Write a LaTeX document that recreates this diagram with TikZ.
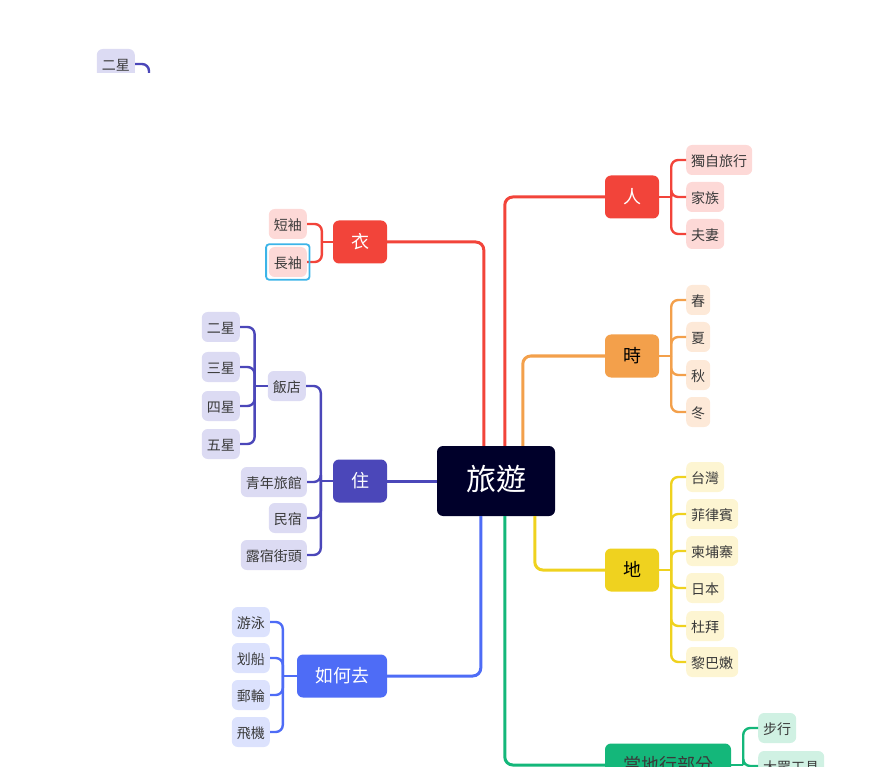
\documentclass[tikz,border=0pt]{standalone}
\usepackage{fontspec}
\setmainfont{Noto Sans CJK TC}
\usetikzlibrary{calc}

\definecolor{rootbg}{HTML}{00002A}
\definecolor{cRed}{HTML}{F2443A}
\definecolor{cOrange}{HTML}{F3A04B}
\definecolor{cYellow}{HTML}{EFD21F}
\definecolor{cGreen}{HTML}{14B77A}
\definecolor{cIndigo}{HTML}{4B47B9}
\definecolor{cBlue}{HTML}{4E6CF6}
\definecolor{lRed}{HTML}{FDD9D7}
\definecolor{lOrange}{HTML}{FDE9D8}
\definecolor{lYellow}{HTML}{FDF5D2}
\definecolor{lGreen}{HTML}{D0F1E3}
\definecolor{lIndigo}{HTML}{DCDBF3}
\definecolor{lBlue}{HTML}{DCE2FD}
\definecolor{ink}{HTML}{3A3A3A}
\definecolor{selblue}{HTML}{3CB4E8}

\begin{document}
\begin{tikzpicture}[x=1pt,y=-1pt,
  rootnode/.style={fill=rootbg, text=white, rounded corners=6pt,
    minimum width=118pt, minimum height=70pt, inner sep=0pt,
    font=\fontsize{30}{32}\selectfont, text height=1.8em, text depth=0em},
  topic/.style={fill=#1, rounded corners=6pt, minimum height=43pt,
    inner xsep=18pt, inner ysep=0pt,
    font=\fontsize{18}{20}\selectfont, text height=1.35em, text depth=0em},
  leaf/.style={fill=#1, text=ink, rounded corners=6pt, minimum height=30pt,
    inner xsep=5pt, inner ysep=0pt,
    font=\fontsize{14}{16}\selectfont, text height=1.3em, text depth=0em},
  mainlink/.style={draw=#1, line width=3pt, rounded corners=8pt},
  sublink/.style={draw=#1, line width=2.4pt, rounded corners=7pt},
  selbox/.style={draw=selblue, line width=1.8pt, rounded corners=3pt}]

\useasboundingbox (0,0) rectangle (881,767);
\clip (0,0) rectangle (881,767);

% ---- central topic ----
\node[rootnode] (root) at (496,481) {旅遊};

% ---- main topics ----
\node[topic=cRed, text=white] (ren) at (632,197) {人};
\node[topic=cOrange, text=black] (shi) at (632,356) {時};
\node[topic=cYellow, text=black] (di) at (632,570) {地};
\node[topic=cGreen, text=ink] (dang) at (668,765) {當地行部分};
\node[topic=cRed, text=white] (yi) at (360,242) {衣};
\node[topic=cIndigo, text=white] (zhu) at (360,481) {住};
\node[topic=cBlue, text=white] (ru) at (342,676) {如何去};

% attachment points on the central topic
\coordinate (rt1) at ($(root.north west)+(47,0)$);
\coordinate (rt2) at ($(root.north west)+(68,0)$);
\coordinate (rt3) at ($(root.north west)+(86,0)$);
\coordinate (rb1) at ($(root.south west)+(44,0)$);
\coordinate (rb2) at ($(root.south west)+(68,0)$);
\coordinate (rb3) at ($(root.south west)+(98,0)$);

\draw[mainlink=cRed] (rt2) |- (ren.west);
\draw[mainlink=cOrange] (rt3) |- (shi.west);
\draw[mainlink=cRed] (yi.east) -| (rt1);
\draw[mainlink=cIndigo] (zhu.east) -- (root.west);
\draw[mainlink=cBlue] (rb1) |- (ru.east);
\draw[mainlink=cGreen] (rb2) |- (dang.west);
\draw[mainlink=cYellow] (rb3) |- (di.west);

% ---- 人 ----
\node[leaf=lRed, anchor=west] (ren1) at (686,160) {獨自旅行};
\node[leaf=lRed, anchor=west] (ren2) at (686,197) {家族};
\node[leaf=lRed, anchor=west] (ren3) at (686,234) {夫妻};
\coordinate (renT) at ($(ren.east)+(12,0)$);
\draw[sublink=cRed] (ren.east) -- (renT);
\foreach \c in {ren1,ren2,ren3} \draw[sublink=cRed] (renT) |- (\c.west);

% ---- 時 ----
\node[leaf=lOrange, anchor=west] (shi1) at (686,300) {春};
\node[leaf=lOrange, anchor=west] (shi2) at (686,337) {夏};
\node[leaf=lOrange, anchor=west] (shi3) at (686,375) {秋};
\node[leaf=lOrange, anchor=west] (shi4) at (686,412) {冬};
\coordinate (shiT) at ($(shi.east)+(12,0)$);
\draw[sublink=cOrange] (shi.east) -- (shiT);
\foreach \c in {shi1,shi2,shi3,shi4} \draw[sublink=cOrange] (shiT) |- (\c.west);

% ---- 地 ----
\node[leaf=lYellow, anchor=west] (di1) at (686,477) {台灣};
\node[leaf=lYellow, anchor=west] (di2) at (686,514) {菲律賓};
\node[leaf=lYellow, anchor=west] (di3) at (686,551) {柬埔寨};
\node[leaf=lYellow, anchor=west] (di4) at (686,588) {日本};
\node[leaf=lYellow, anchor=west] (di5) at (686,626) {杜拜};
\node[leaf=lYellow, anchor=west] (di6) at (686,662) {黎巴嫩};
\coordinate (diT) at ($(di.east)+(12,0)$);
\draw[sublink=cYellow] (di.east) -- (diT);
\foreach \c in {di1,di2,di3,di4,di5,di6} \draw[sublink=cYellow] (diT) |- (\c.west);

% ---- 當地行部分 ----
\node[leaf=lGreen, anchor=west] (dang1) at (758,728) {步行};
\node[leaf=lGreen, anchor=west] (dang2) at (758,766) {大眾工具};
\coordinate (dangT) at ($(dang.east)+(12,0)$);
\draw[sublink=cGreen] (dang.east) -- (dangT);
\foreach \c in {dang1,dang2} \draw[sublink=cGreen] (dangT) |- (\c.west);

% ---- 衣 ----
\node[leaf=lRed, anchor=east] (yi1) at (307,224) {短袖};
\node[leaf=lRed, anchor=east] (yi2) at (307,262) {長袖};
\coordinate (yiT) at ($(yi.west)+(-11,0)$);
\draw[sublink=cRed] (yi.west) -- (yiT);
\foreach \c in {yi1,yi2} \draw[sublink=cRed] (yiT) |- (\c.east);
\draw[selbox] ($(yi2.north west)+(-2.5,-2.5)$) rectangle ($(yi2.south east)+(2.5,2.5)$);

% ---- 住 ----
\node[leaf=lIndigo, anchor=east] (zhu1) at (306,386) {飯店};
\node[leaf=lIndigo, anchor=east] (zhu2) at (307,482) {青年旅館};
\node[leaf=lIndigo, anchor=east] (zhu3) at (307,518) {民宿};
\node[leaf=lIndigo, anchor=east] (zhu4) at (307,555) {露宿街頭};
\coordinate (zhuT) at ($(zhu.west)+(-12,0)$);
\draw[sublink=cIndigo] (zhu.west) -- (zhuT);
\foreach \c in {zhu1,zhu2,zhu3,zhu4} \draw[sublink=cIndigo] (zhuT) |- (\c.east);

% ---- 飯店 ----
\node[leaf=lIndigo, anchor=east] (h1) at (240,327) {二星};
\node[leaf=lIndigo, anchor=east] (h2) at (240,367) {三星};
\node[leaf=lIndigo, anchor=east] (h3) at (240,406) {四星};
\node[leaf=lIndigo, anchor=east] (h4) at (240,444) {五星};
\coordinate (hT) at ($(zhu1.west)+(-13,0)$);
\draw[sublink=cIndigo] (zhu1.west) -- (hT);
\foreach \c in {h1,h2,h3,h4} \draw[sublink=cIndigo] (hT) |- (\c.east);

% ---- 如何去 ----
\node[leaf=lBlue, anchor=east] (ru1) at (270,622) {游泳};
\node[leaf=lBlue, anchor=east] (ru2) at (270,658) {划船};
\node[leaf=lBlue, anchor=east] (ru3) at (270,695) {郵輪};
\node[leaf=lBlue, anchor=east] (ru4) at (270,732) {飛機};
\coordinate (ruT) at ($(ru.west)+(-14,0)$);
\draw[sublink=cBlue] (ru.west) -- (ruT);
\foreach \c in {ru1,ru2,ru3,ru4} \draw[sublink=cBlue] (ruT) |- (\c.east);

% ---- loose copy being dragged, cut at its lower edge ----
\begin{scope}
  \clip (80,40) rectangle (170,73);
  \node[leaf=lIndigo, anchor=east] (drag) at (135,64) {二星};
  \coordinate (dragEnd) at ($(drag.east)+(14,20)$);
  \draw[sublink=cIndigo] (drag.east) -| (dragEnd);
\end{scope}

\end{tikzpicture}
\end{document}
